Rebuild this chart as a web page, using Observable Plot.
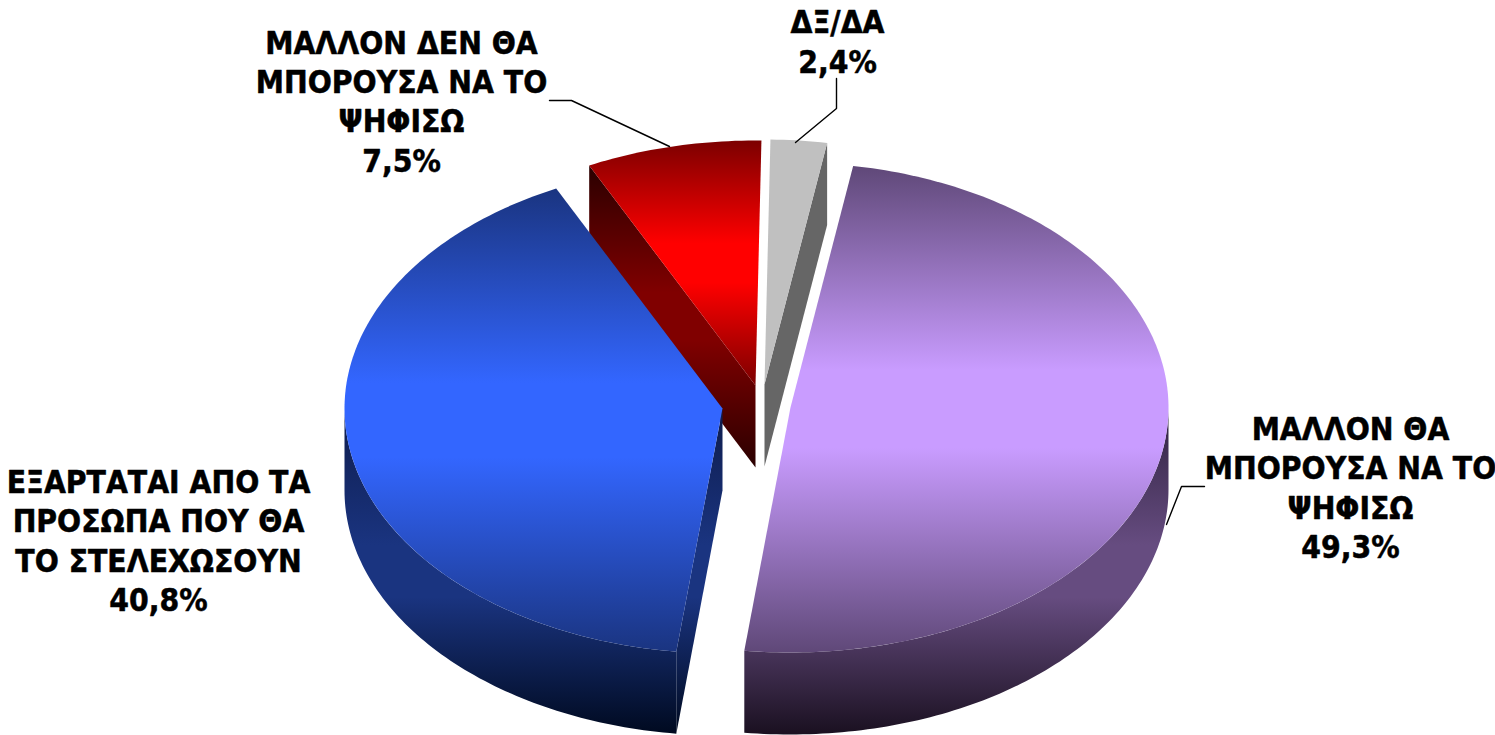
<!DOCTYPE html>
<html>
<head>
<meta charset="utf-8">
<script src="https://cdn.jsdelivr.net/npm/d3@7"></script>
<script src="https://cdn.jsdelivr.net/npm/@observablehq/plot@0.6"></script>
<style>
html,body{margin:0;padding:0;background:#fff;overflow:hidden}
svg{display:block}
</style>
</head>
<body>
<div id="chart"></div>
<script>
// Data, in pie order (clockwise from the top)
const categories = ["ΔΞ/ΔΑ", "ΜΑΛΛΟΝ ΘΑ\nΜΠΟΡΟΥΣΑ ΝΑ ΤΟ\nΨΗΦΙΣΩ", "ΕΞΑΡΤΑΤΑΙ ΑΠΟ ΤΑ\nΠΡΟΣΩΠΑ ΠΟΥ ΘΑ\nΤΟ ΣΤΕΛΕΧΩΣΟΥΝ", "ΜΑΛΛΟΝ ΔΕΝ ΘΑ\nΜΠΟΡΟΥΣΑ ΝΑ ΤΟ\nΨΗΦΙΣΩ"];
const values = [2.4, 49.3, 40.8, 7.5];

// Layout and styling
const W = 1495, H = 735;
const rx = 378, ry = 245, depth = 82, startAngle = 0.9;
const centers = [[764, 384], [790, 407], [722, 408], [755, 385]];
const topStops = [["#c0c0c0","#c0c0c0"],["#5f4878","#c99cff"],["#1a3480","#3366ff"],["#7c0000","#ff0000"]];
const wallStops = [["#666666","#666666","#666666"],["#2f2240","#664c80","#1a1020"],["#0e1c4c","#1a3480","#000a20"],["#2a0000","#800000","#2a0000"]];
const labelPos = [[837, 40], [1350, 486], [158, 539], [401, 99.5]];
const leaders = [
  [[836, 78], [836, 108], [795, 142]],
  [[1204, 486], [1181, 486], [1166, 524]],
  [[549, 100], [571, 100], [669, 146]]
];

// Slice geometry derived from the values
let acc = startAngle;
const slices = values.map((v, i) => {
  const a0 = acc, a1 = acc + v * 3.6; acc = a1;
  return {i, a0, a1, c: centers[i]};
});
const rad = d => d * Math.PI / 180;
const rim = (c, a, dz = 0) => ({x: c[0] + rx * Math.sin(rad(a)), y: c[1] - ry * Math.cos(rad(a)) + dz});
const arc = (c, a0, a1, dz = 0) => {
  const n = Math.max(2, Math.ceil(Math.abs(a1 - a0)));
  return d3.range(n + 1).map(k => rim(c, a0 + (a1 - a0) * k / n, dz));
};
const apex = (c, dz = 0) => ({x: c[0], y: c[1] + dz});
const topFace = s => [apex(s.c), ...arc(s.c, s.a0, s.a1)];
const outerWall = (c, a0, a1) => [...arc(c, a0, a1), ...arc(c, a1, a0, depth)];
const cutFace = (c, a) => [apex(c), rim(c, a), rim(c, a, depth), apex(c, depth)];

function gradient(defs, id, colors) {
  const g = defs.append("linearGradient").attr("id", id).attr("x1", 0).attr("y1", 0).attr("x2", 0).attr("y2", 1);
  const [a, b, c] = colors.length === 2 ? [colors[0], colors[1], colors[0]] : colors;
  [[0, a], [0.42, b], [0.58, b], [1, c]].forEach(([o, col]) => g.append("stop").attr("offset", o).attr("stop-color", col));
}
const defsMark = () => {
  const defs = d3.create("svg:defs");
  slices.forEach(s => {
    gradient(defs, `top${s.i}`, topStops[s.i]);
    gradient(defs, `wall${s.i}`, wallStops[s.i]);
  });
  return defs.node();
};
const poly = (pts, fill) => Plot.line(pts, {x: "x", y: "y", fill, stroke: "none"});

const [gray, purple, blue, red] = slices;
const sliceMarks = [
  poly(cutFace(red.c, red.a0), "url(#wall3)"),
  poly(topFace(red), "url(#top3)"),
  poly(cutFace(gray.c, gray.a1), "url(#wall0)"),
  poly(topFace(gray), "url(#top0)"),
  poly(outerWall(blue.c, blue.a0, 270), "url(#wall2)"),
  poly(cutFace(blue.c, blue.a0), "url(#wall2)"),
  poly(topFace(blue), "url(#top2)"),
  poly(outerWall(purple.c, 90, purple.a1), "url(#wall1)"),
  poly(topFace(purple), "url(#top1)")
];

const fmt = v => v.toFixed(1).replace(".", ",") + "%";
const labels = categories.map((c, i) => ({
  text: c + "\n" + fmt(values[i]), x: labelPos[i][0], y: labelPos[i][1]
}));

const plot = Plot.plot({
  width: W, height: H,
  margin: 0,
  x: {domain: [0, W], range: [0, W], axis: null},
  y: {domain: [0, H], range: [0, H], axis: null},
  style: {background: "#fff"},
  marks: [
    defsMark,
    ...sliceMarks,
    ...leaders.map(l => Plot.line(l.map(p => ({x: p[0], y: p[1]})), {x: "x", y: "y", stroke: "#000", strokeWidth: 1.4})),
    Plot.text(labels, {
      x: "x", y: "y", text: "text",
      fontFamily: "'DejaVu Sans Condensed', 'DejaVu Sans'",
      fontWeight: 700, fontSize: 31.5, lineHeight: 1.25,
      fill: "#000", stroke: "#000", strokeWidth: 0.5, textAnchor: "middle"
    })
  ]
});
document.getElementById("chart").append(plot);
</script>
</body>
</html>
